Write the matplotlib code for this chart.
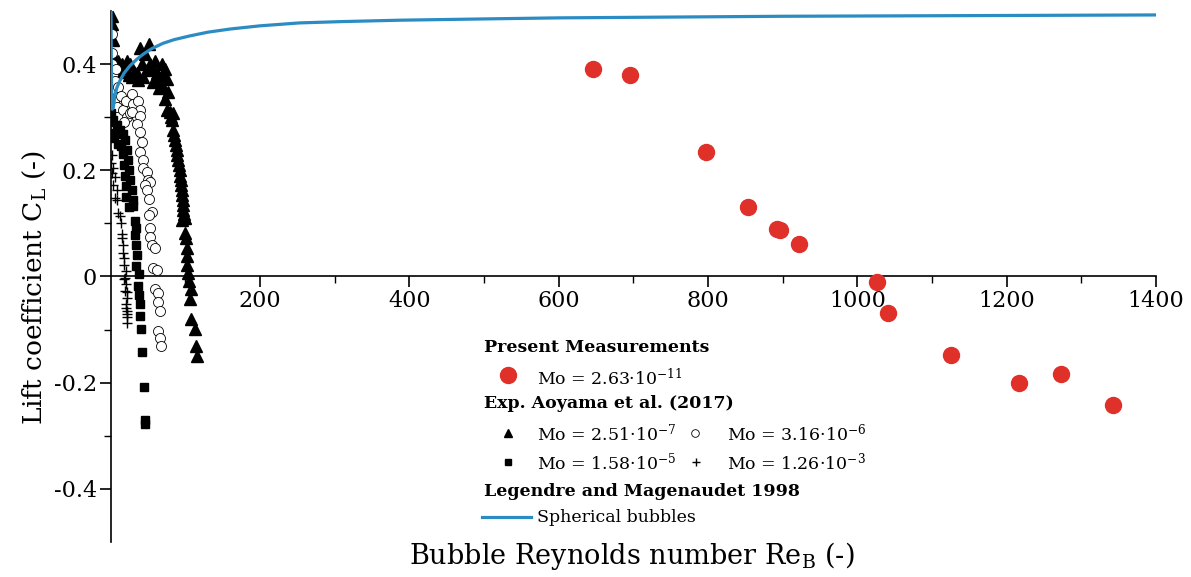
import numpy as np
import matplotlib
matplotlib.use("Agg")
import matplotlib.pyplot as plt
from matplotlib.lines import Line2D

plt.rcParams['font.family'] = ['DejaVu Serif']
plt.rcParams['mathtext.fontset'] = 'dejavuserif'
plt.rcParams['axes.unicode_minus'] = False

# present measurements (Mo = 2.63e-11)
meas_re = [646, 696, 797, 854, 892, 897, 922, 1027, 1041, 1126, 1216, 1273, 1343]
meas_cl = [0.391, 0.379, 0.234, 0.131, 0.089, 0.088, 0.061, -0.010, -0.069, -0.148, -0.201, -0.184, -0.242]

# Aoyama et al. (2017), Mo = 2.51e-7
tri_re = [1.3, 1.3, 2.7, 5.8, 8, 10.2, 12.5, 14.7, 19, 21.4, 24, 25.8, 28, 31, 34.8, 36,
          39.2, 41.5, 44, 45.9, 48.2, 51.7, 52.6, 55, 57, 59.3, 61.6, 63, 65, 68.3, 68.3,
          70.4, 72.7, 72.7, 75, 75, 77.1, 79.4, 80.5, 81.7, 83.8, 83.8, 85, 86.1, 87,
          88.4, 89.5, 90.5, 91.6, 92.8, 93.5, 94.1, 94.8, 95, 95.7, 96.4, 96.8, 97.2, 98,
          99.5, 95, 99.5, 100.8, 102.6, 101.8, 102.6, 104, 105.3, 107.1, 106.2, 107.5,
          112.9, 114.2, 115.2]
tri_cl = [0.490, 0.475, 0.445, 0.410, 0.397, 0.406, 0.385, 0.400, 0.392, 0.406, 0.380, 0.400,
          0.375, 0.385, 0.384, 0.370, 0.431, 0.400, 0.375, 0.419, 0.388, 0.438, 0.400, 0.390,
          0.366, 0.406, 0.384, 0.370, 0.355, 0.400, 0.378, 0.356, 0.391, 0.335, 0.372, 0.313,
          0.347, 0.310, 0.300, 0.294, 0.307, 0.275, 0.266, 0.257, 0.248, 0.238, 0.228, 0.219,
          0.210, 0.200, 0.190, 0.182, 0.172, 0.163, 0.154, 0.144, 0.135, 0.125, 0.117, 0.110,
          0.107, 0.082, 0.072, 0.054, 0.038, 0.022, 0.007, -0.009, -0.024, -0.043, -0.080,
          -0.099, -0.130, -0.149]

# Mo = 3.16e-6
circ_re = [1.3, 1.5, 2, 3.5, 5.8, 3.5, 7, 10.2, 8, 12.5, 5.8, 4, 9, 14, 16.9, 20, 22, 18,
           28.1, 30.3, 37, 39.2, 25.8, 34.8, 28.1, 39.2, 34.8, 39.2, 41.5, 39.2, 42.9, 43.7,
           48.2, 50.4, 52.6, 45.9, 48.2, 51.7, 54.9, 51.7, 52.6, 52.6, 54.9, 59.3, 57, 61.6,
           59.3, 63.7, 63.7, 66, 63.7, 66, 67]
circ_cl = [0.456, 0.420, 0.400, 0.381, 0.369, 0.350, 0.390, 0.356, 0.338, 0.325, 0.319, 0.330,
           0.320, 0.340, 0.313, 0.330, 0.300, 0.290, 0.344, 0.325, 0.331, 0.313, 0.307, 0.300,
           0.310, 0.303, 0.288, 0.272, 0.253, 0.235, 0.219, 0.204, 0.197, 0.182, 0.178, 0.172,
           0.163, 0.146, 0.122, 0.116, 0.091, 0.075, 0.060, 0.054, 0.016, 0.013, -0.024,
           -0.031, -0.049, -0.065, -0.102, -0.115, -0.130]

# Mo = 1.58e-5
sq_re = [0.5, 1, 1.5, 3.5, 5, 8, 10, 12.5, 14, 16.9, 17, 18, 19.2, 19, 20, 21.4, 21,
         23.6, 24, 24.9, 25.8, 28.1, 29.5, 30.3, 32.5, 33.9, 32.5, 33.9, 34.8, 33.9, 38.3,
         37, 38.3, 39.2, 39.2, 40, 41.5, 44.6, 45.9, 46.5]
sq_cl = [0.307, 0.290, 0.270, 0.294, 0.260, 0.285, 0.250, 0.275, 0.245, 0.269, 0.230,
         0.210, 0.257, 0.190, 0.170, 0.238, 0.150, 0.219, 0.130, 0.200, 0.182, 0.163,
         0.144, 0.132, 0.104, 0.091, 0.079, 0.060, 0.041, 0.019, 0.004, -0.018, -0.034,
         -0.052, -0.074, -0.099, -0.143, -0.208, -0.271, -0.277]

# Mo = 1.26e-3
plus_re = [1.3, 0.5, 3.5, 1.3, 5.8, 3.5, 8, 5.8, 8, 10.2, 12.5, 13.4, 14.7, 15.5, 16.5,
           16.1, 18, 17.8, 20, 19.2, 18.5, 20.5, 19.2, 22, 21.4, 20.5, 20, 21.4, 22.5,
           22.2, 21.4]
plus_cl = [0.228, 0.213, 0.204, 0.194, 0.188, 0.172, 0.163, 0.147, 0.144, 0.119, 0.113,
           0.100, 0.072, 0.080, 0.060, 0.044, 0.035, 0.022, 0.010, -0.003, -0.005, -0.015,
           -0.027, -0.030, -0.040, -0.052, -0.060, -0.065, -0.070, -0.077, -0.087]

# Legendre and Magnaudet 1998, spherical bubbles
lm_re = [0.3, 0.45, 0.6, 0.8, 1.0, 1.5, 2.2, 3.5, 6, 8.5, 12.5, 18, 26, 35, 44, 55, 70, 85,
         106, 130, 160, 200, 253, 310, 387, 500, 600, 700, 900, 1000, 1200, 1400]
lm_cl = [0.62, 0.53, 0.47, 0.42, 0.39, 0.34, 0.315, 0.318, 0.343, 0.356, 0.369, 0.383,
         0.397, 0.409, 0.419, 0.429, 0.439, 0.446, 0.453, 0.460, 0.466, 0.472, 0.4775,
         0.480, 0.4826, 0.485, 0.487, 0.488, 0.490, 0.4905, 0.4915, 0.4925]

x_ticks = [200, 400, 600, 800, 1000, 1200, 1400]
y_ticks = [-0.4, -0.2, 0, 0.2, 0.4]
y_ticklabels = ['-0.4', '-0.2', '0', '0.2', '0.4']

W, H = 1191, 577
fig = plt.figure(figsize=(W / 100, H / 100), dpi=100)
ax = fig.add_axes([0.0929, 0.0607, 0.8777, 0.9203])

blue = '#2b8cc4'
red = '#e0302a'

ax.plot(lm_re, lm_cl, color=blue, lw=2.3, zorder=4)
ax.plot(tri_re, tri_cl, ls='none', marker='^', ms=8.5, color='black', zorder=3)
ax.plot(circ_re, circ_cl, ls='none', marker='o', ms=7.2, mfc='white', mec='black', mew=0.6, zorder=3)
ax.plot(sq_re, sq_cl, ls='none', marker='s', ms=5.5, color='black', zorder=3)
ax.plot(plus_re, plus_cl, ls='none', marker='+', ms=7, color='black', mew=1.0, zorder=3)
ax.plot(meas_re, meas_cl, ls='none', marker='o', ms=11.5, color=red, zorder=5)

ax.set_xlim(0, 1400)
ax.set_ylim(-0.5, 0.5)
ax.spines['top'].set_visible(False)
ax.spines['right'].set_visible(False)
ax.spines['bottom'].set_position(('data', 0))
ax.spines['left'].set_linewidth(1.2)
ax.spines['bottom'].set_linewidth(1.2)

ax.set_xticks(x_ticks)
ax.set_xticks(np.arange(100, 1400, 200), minor=True)
ax.set_yticks(y_ticks)
ax.set_yticklabels(y_ticklabels)
ax.set_yticks([-0.3, -0.1, 0.1, 0.3], minor=True)
ax.tick_params(which='major', direction='out', length=8, width=1.2, labelsize=16, pad=2)
ax.tick_params(which='minor', direction='out', length=5, width=1.0)

ax.set_ylabel(r'Lift coefficient C$_\mathregular{L}$ (-)', fontsize=19)
ax.yaxis.set_label_coords(-0.060, 0.479)
ax.set_xlabel(r'Bubble Reynolds number Re$_\mathregular{B}$ (-)', fontsize=19.5)
ax.xaxis.set_label_coords(0.499, 0.004)

# legend built by hand (pixel positions in the figure)
def fx(x):
    return x / W

def fy(y):
    return 1 - y / H

fs = 12.5
fig.text(fx(484), fy(348), 'Present Measurements', fontsize=fs, fontweight='bold', va='center')
fig.add_artist(Line2D([fx(508)], [fy(375)], marker='o', ms=11.5, color=red, ls='none'))
fig.text(fx(537), fy(378), r'Mo = 2.63·10$^\mathregular{-11}$', fontsize=fs, va='center')
fig.text(fx(484), fy(403), 'Exp. Aoyama et al. (2017)', fontsize=fs, fontweight='bold', va='center')
fig.add_artist(Line2D([fx(508)], [fy(433)], marker='^', ms=6, color='black', ls='none'))
fig.text(fx(537), fy(433), r'Mo = 2.51·10$^\mathregular{-7}$', fontsize=fs, va='center')
fig.add_artist(Line2D([fx(695)], [fy(433)], marker='o', ms=5.5, mfc='white', mec='black', mew=0.6, ls='none'))
fig.text(fx(727), fy(433), r'Mo = 3.16·10$^\mathregular{-6}$', fontsize=fs, va='center')
fig.add_artist(Line2D([fx(508)], [fy(462)], marker='s', ms=5, color='black', ls='none'))
fig.text(fx(537), fy(462), r'Mo = 1.58·10$^\mathregular{-5}$', fontsize=fs, va='center')
fig.add_artist(Line2D([fx(696)], [fy(462)], marker='+', ms=6, color='black', mew=1.0, ls='none'))
fig.text(fx(727), fy(462), r'Mo = 1.26·10$^\mathregular{-3}$', fontsize=fs, va='center')
fig.text(fx(484), fy(491), 'Legendre and Magenaudet 1998', fontsize=fs, fontweight='bold', va='center')
fig.add_artist(Line2D([fx(482), fx(531)], [fy(517), fy(517)], color=blue, lw=2.3))
fig.text(fx(537), fy(518), 'Spherical bubbles', fontsize=fs, va='center')

fig.savefig('out.png', dpi=100)
